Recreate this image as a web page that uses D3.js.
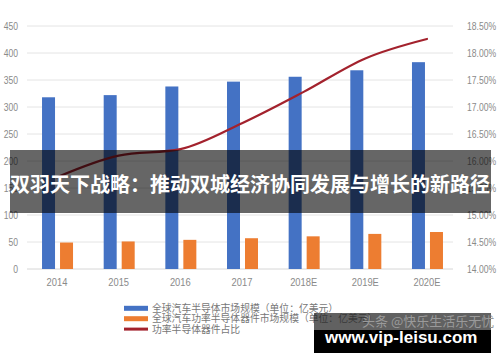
<!DOCTYPE html>
<html>
<head>
<meta charset="utf-8">
<script src="https://cdn.jsdelivr.net/npm/d3@7.9.0/dist/d3.min.js"></script>
<style>
  html, body { margin: 0; padding: 0; background: #fff; }
  svg { display: block; }
  text { font-family: "Liberation Sans", Arial, "Noto Sans CJK SC", sans-serif; }
  .cjk { font-family: "Noto Sans CJK SC", sans-serif; }
</style>
</head>
<body>
<svg id="chart" width="500" height="362"></svg>
<script>
// data
const years = ['2014', '2015', '2016', '2017', '2018E', '2019E', '2020E'];
const marketSize = [318, 322, 338, 347, 356, 368, 383];      // 亿美元
const powerSize = [49, 51, 54, 57, 60.5, 65, 68.5];          // 亿美元
const powerShare = [15.7, 16.1, 16.22, 16.7, 17.28, 17.9, 18.26]; // %
const leftTicks = [0, 50, 100, 150, 200, 250, 300, 350, 400, 450];
const rightTicks = [14, 14.5, 15, 15.5, 16, 16.5, 17, 17.5, 18, 18.5];
const seriesNames = [
  '全球汽车半导体市场规模（单位：亿美元）',
  '全球汽车功率半导体器件市场规模（单位：亿美元）',
  '功率半导体器件占比'
];
const colors = ['#4472c4', '#ed7d31', '#a3222d'];
const title = '双羽天下战略：推动双城经济协同发展与增长的新路径';

const svg = d3.select('#chart');

const x = d3.scaleBand().domain(years).range([26.2, 457.8]);
const xSub = d3.scaleBand().domain([0, 1]).range([-15, 16]).paddingInner(0.278);
const y = d3.scaleLinear().domain([0, 450]).range([269, 26]);
const yR = d3.scaleLinear().domain([14, 18.5]).range([269, 26]);

// squeeze text a little horizontally, the picture is narrow
function squish(sel, k) {
  sel.each(function () {
    const len = this.getComputedTextLength();
    d3.select(this).attr('textLength', len * k).attr('lengthAdjust', 'spacingAndGlyphs');
  });
}

// gridlines
svg.append('g')
  .selectAll('line')
  .data(leftTicks)
  .join('line')
  .attr('x1', 27).attr('x2', 453)
  .attr('y1', (d) => y(d)).attr('y2', (d) => y(d))
  .attr('stroke', (d) => d === 0 ? '#d6d6d6' : '#e4e4e4')
  .attr('stroke-width', 1);

// left axis labels
svg.append('g')
  .selectAll('text')
  .data(leftTicks)
  .join('text')
  .attr('x', 18)
  .attr('y', (d) => y(d) + 4)
  .attr('text-anchor', 'end')
  .attr('font-size', 11)
  .attr('fill', '#8a8a8a')
  .text((d) => d)
  .call(squish, 0.78);

// right axis labels
svg.append('g')
  .selectAll('text')
  .data(rightTicks)
  .join('text')
  .attr('x', 467)
  .attr('y', (d) => yR(d) + 4)
  .attr('font-size', 11)
  .attr('fill', '#8a8a8a')
  .text((d) => d.toFixed(2) + '%')
  .call(squish, 0.78);

// x labels
svg.append('g')
  .selectAll('text')
  .data(years)
  .join('text')
  .attr('x', (d) => x(d) + x.bandwidth() / 2)
  .attr('y', 285.5)
  .attr('text-anchor', 'middle')
  .attr('font-size', 11)
  .attr('fill', '#8a8a8a')
  .text((d) => d)
  .call(squish, 0.85);

// bars
const groups = svg.append('g')
  .selectAll('g')
  .data(years)
  .join('g')
  .attr('transform', (d) => `translate(${x(d) + x.bandwidth() / 2},0)`);

groups.append('rect')
  .attr('x', xSub(0))
  .attr('width', xSub.bandwidth())
  .attr('y', (d, i) => y(marketSize[i]))
  .attr('height', (d, i) => y(0) - y(marketSize[i]))
  .attr('fill', colors[0]);

groups.append('rect')
  .attr('x', xSub(1))
  .attr('width', xSub.bandwidth())
  .attr('y', (d, i) => y(powerSize[i]))
  .attr('height', (d, i) => y(0) - y(powerSize[i]))
  .attr('fill', colors[1]);

// share line
const line = d3.line()
  .x((d, i) => x(years[i]) + x.bandwidth() / 2)
  .y((d) => yR(d))
  .curve(d3.curveMonotoneX);

svg.append('path')
  .datum(powerShare)
  .attr('d', line)
  .attr('fill', 'none')
  .attr('stroke', colors[2])
  .attr('stroke-width', 2.2)
  .attr('stroke-linecap', 'round');

// legend
const legend = svg.append('g')
  .selectAll('g')
  .data(seriesNames)
  .join('g')
  .attr('transform', (d, i) => `translate(124,${308.3 + i * 10.4})`);

legend.append('rect')
  .attr('x', 0)
  .attr('width', 24)
  .attr('y', (d, i) => i === 2 ? -1.5 : -2.5)
  .attr('height', (d, i) => i === 2 ? 3 : 5)
  .attr('fill', (d, i) => colors[i]);

legend.append('text')
  .attr('class', 'cjk')
  .attr('x', 28)
  .attr('y', 3.6)
  .attr('font-size', 9.8)
  .attr('fill', '#777')
  .text((d) => d);

// title banner over the chart
svg.append('rect')
  .attr('x', 10).attr('y', 150)
  .attr('width', 481).attr('height', 63)
  .attr('fill', 'rgba(0,0,0,0.6)');

svg.append('text')
  .attr('class', 'cjk')
  .attr('x', 10)
  .attr('y', 192)
  .attr('font-size', 20)
  .attr('font-weight', 'bold')
  .attr('fill', '#fff')
  .text(title);

// watermark box
svg.append('rect')
  .attr('x', 314).attr('y', 313)
  .attr('width', 177).attr('height', 17)
  .attr('fill', 'rgba(30,30,30,0.7)');

svg.append('rect')
  .attr('x', 314).attr('y', 330)
  .attr('width', 177).attr('height', 23)
  .attr('fill', '#000');

svg.append('text')
  .attr('class', 'cjk')
  .attr('x', 362)
  .attr('y', 326)
  .attr('font-size', 13)
  .attr('fill', '#9a9a9a')
  .text('头条 @快乐生活乐无忧');

svg.append('text')
  .attr('x', 325)
  .attr('y', 342.5)
  .attr('font-size', 17)
  .attr('font-weight', 'bold')
  .attr('fill', '#fff')
  .text('www.vip-leisu.com');
</script>
</body>
</html>
